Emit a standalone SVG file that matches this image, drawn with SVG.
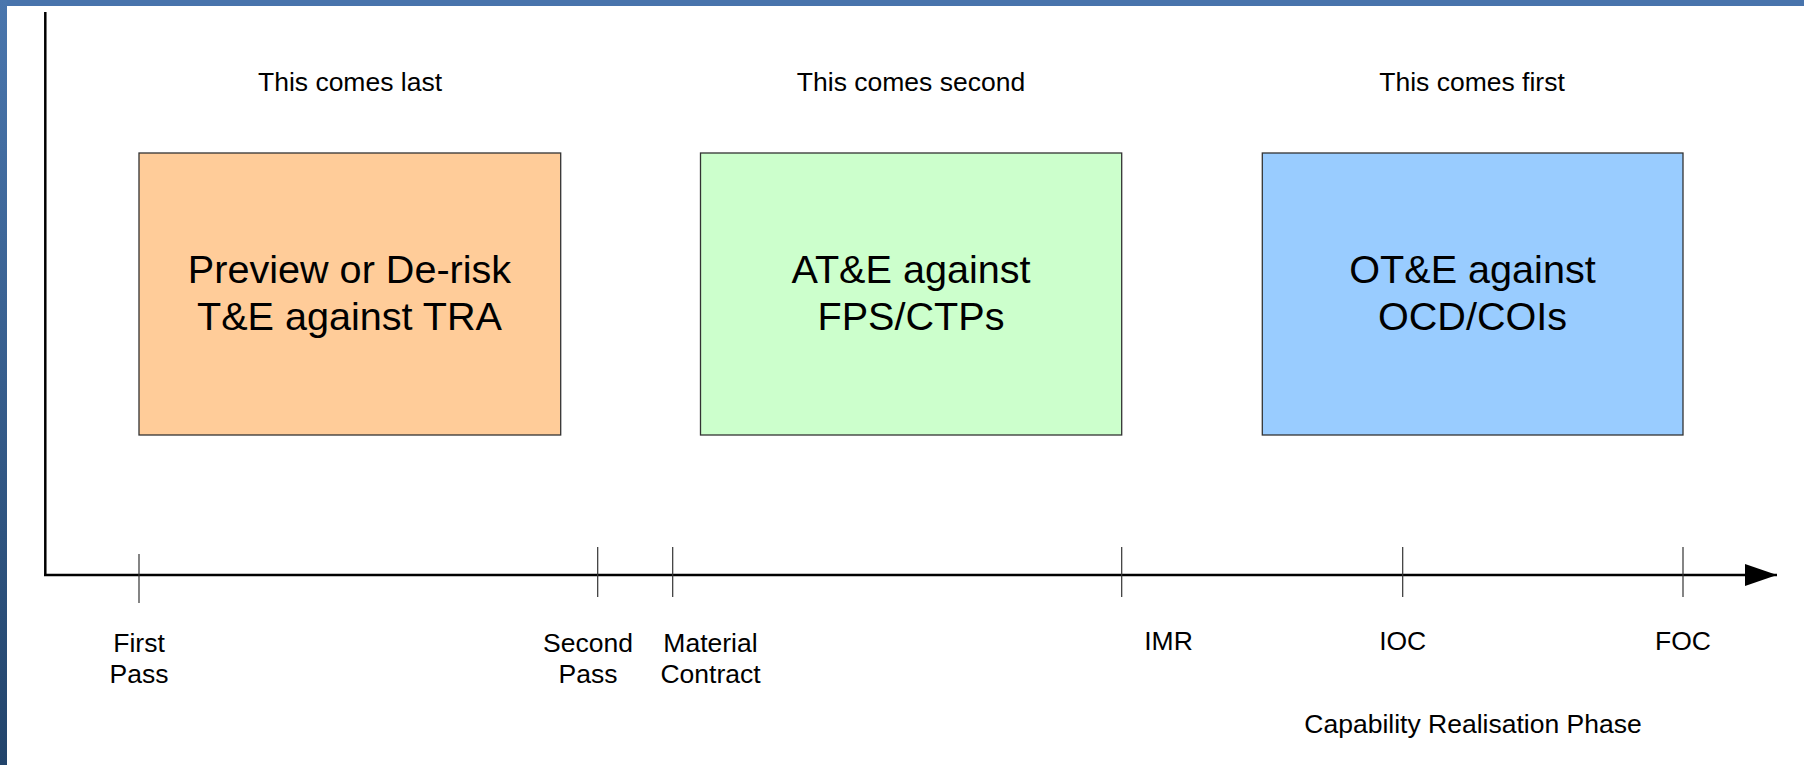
<svg xmlns="http://www.w3.org/2000/svg" width="1804" height="765" viewBox="0 0 1804 765">
  <defs>
    <linearGradient id="sideGrad" x1="0" y1="0" x2="0" y2="1">
      <stop offset="0" stop-color="#4a76ad"/>
      <stop offset="1" stop-color="#22446b"/>
    </linearGradient>
    <marker id="arrow" markerUnits="userSpaceOnUse" markerWidth="34" markerHeight="24" refX="32" refY="11" orient="auto">
      <path d="M0,0 L32,11 L0,22 Z" fill="#000"/>
    </marker>
  </defs>
  <style>
    .lbl { font-family: "Liberation Sans", Arial, sans-serif; font-size: 26.5px; fill: #000; text-anchor: middle; }
    .big { font-family: "Liberation Sans", Arial, sans-serif; font-size: 39.6px; fill: #000; text-anchor: middle; }
    .box { stroke: #333; stroke-width: 1.3; }
    .tick { stroke: #333; stroke-width: 1.2; }
    .axis { stroke: #000; stroke-width: 2.5; fill: none; }
  </style>
  <rect x="0" y="0" width="1804" height="765" fill="#fff"/>
  <rect x="0" y="0" width="1804" height="6" fill="#4874ac"/>
  <rect x="0" y="0" width="7" height="765" fill="url(#sideGrad)"/>

  <g id="connectors">
    <line class="axis" x1="45.3" y1="12" x2="45.3" y2="576"/>
    <line class="axis" x1="44" y1="575" x2="1777" y2="575" marker-end="url(#arrow)"/>
    <line class="tick" x1="139" y1="554" x2="139" y2="603" stroke="#666"/>
    <line class="tick" x1="597.7" y1="547" x2="597.7" y2="597"/>
    <line class="tick" x1="672.7" y1="547" x2="672.7" y2="597"/>
    <line class="tick" x1="1121.7" y1="547" x2="1121.7" y2="597"/>
    <line class="tick" x1="1402.7" y1="547" x2="1402.7" y2="597"/>
    <line class="tick" x1="1683" y1="547" x2="1683" y2="597"/>
  </g>

  <g id="header-last"><text class="lbl" x="350" y="91">This comes last</text></g>
  <g id="header-second"><text class="lbl" x="911" y="91">This comes second</text></g>
  <g id="header-first"><text class="lbl" x="1472" y="91">This comes first</text></g>

  <g id="box-preview">
    <rect class="box" x="139" y="153" width="421.7" height="282" fill="#ffcc99"/>
    <text class="big" x="349.5" y="283">Preview or De-risk</text>
    <text class="big" x="349.5" y="330">T&amp;E against TRA</text>
  </g>
  <g id="box-ate">
    <rect class="box" x="700.5" y="153" width="421.2" height="282" fill="#ccffcc"/>
    <text class="big" x="911" y="283">AT&amp;E against</text>
    <text class="big" x="911" y="330">FPS/CTPs</text>
  </g>
  <g id="box-ote">
    <rect class="box" x="1262.3" y="153" width="420.7" height="282" fill="#99ccff"/>
    <text class="big" x="1472.5" y="283">OT&amp;E against</text>
    <text class="big" x="1472.5" y="330">OCD/COIs</text>
  </g>

  <g id="label-first-pass">
    <text class="lbl" x="139" y="652">First</text>
    <text class="lbl" x="139" y="683">Pass</text>
  </g>
  <g id="label-second-pass">
    <text class="lbl" x="588" y="652">Second</text>
    <text class="lbl" x="588" y="683">Pass</text>
  </g>
  <g id="label-material-contract">
    <text class="lbl" x="710.5" y="652">Material</text>
    <text class="lbl" x="710.5" y="683">Contract</text>
  </g>
  <g id="label-imr"><text class="lbl" x="1168.5" y="650">IMR</text></g>
  <g id="label-ioc"><text class="lbl" x="1402.7" y="650">IOC</text></g>
  <g id="label-foc"><text class="lbl" x="1683" y="650">FOC</text></g>
  <g id="label-phase"><text class="lbl" x="1473" y="733">Capability Realisation Phase</text></g>
</svg>
